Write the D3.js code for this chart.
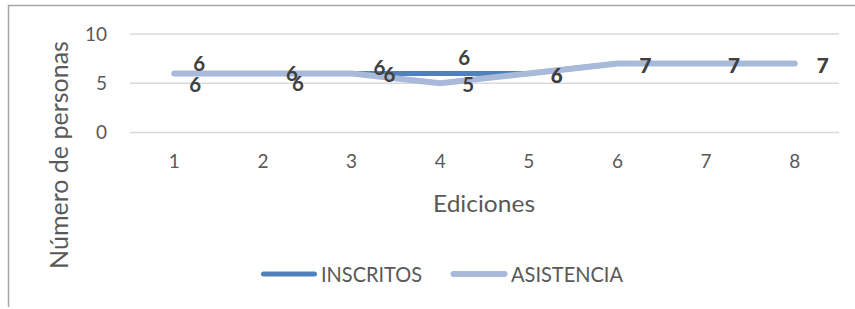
<!DOCTYPE html>
<html><head><meta charset="utf-8">
<script src="https://cdn.jsdelivr.net/npm/d3@7"></script>
<style>html,body{margin:0;padding:0;background:#fff;}svg{display:block;}</style>
</head><body>
<svg id="c" width="855" height="309"></svg>
<script>
const categories = ["1","2","3","4","5","6","7","8"];
const inscritos = [6,6,6,6,6,7,7,7];
const asistencia = [6,6,6,5,6,7,7,7];
const yTicks = [0,5,10];
const seriesNames = ["INSCRITOS","ASISTENCIA"];

// label placement (layout, offsets in px from the point)
const labelOffI = [[25,-9.5],[29,0.5],[28,-5.5],[24,-15.5],[28,2],[28,2],[28,2],[28,2]];
const labelOffA = [[21,11.5],[35,10.5],[38,1.5],[28,1.5],[28,2],[28,2],[28,2],[28,2]];

const svg = d3.select("#c");
const font = "Lato, 'Open Sans', sans-serif";
const colI = "#4f81bd", colA = "#a8b9d9";

// chart border (top + left visible)
svg.append("path").attr("d","M8.5,307 V5.5 H860").attr("fill","none").attr("stroke","#a6a6a6").attr("stroke-width",1.5);

const x = d3.scaleBand().domain(categories).range([130,839]);
const y = d3.scaleLinear().domain([0,10]).range([132.5,34]);

// gridlines
svg.append("g").selectAll("line").data(yTicks).join("line")
  .attr("x1",130).attr("x2",839)
  .attr("y1",d=>y(d)).attr("y2",d=>y(d))
  .attr("stroke","#d9d9d9").attr("stroke-width",1.5);

// y axis
const ya = svg.append("g").attr("transform","translate(130,0)")
  .call(d3.axisLeft(y).tickValues(yTicks).tickSize(0).tickPadding(23));
ya.select(".domain").remove();
ya.selectAll("text").attr("font-family",font).attr("font-size",19).attr("fill","#595959");

// x axis
const xa = svg.append("g").attr("transform","translate(0,132.5)")
  .call(d3.axisBottom(x).tickSize(0).tickPadding(22));
xa.select(".domain").remove();
xa.selectAll("text").attr("font-family",font).attr("font-size",19).attr("fill","#595959");

// axis titles
svg.append("text").attr("x",433).attr("y",212)
  .attr("textLength",102).attr("lengthAdjust","spacingAndGlyphs")
  .attr("font-family",font).attr("font-size",23.5).attr("fill","#595959").text("Ediciones");
svg.append("text").attr("transform","translate(68,155) rotate(-90)").attr("text-anchor","middle")
  .attr("font-family",font).attr("font-size",25).attr("fill","#595959").text("Número de personas");

const cx = d => x(d) + x.bandwidth()/2;
const line = d3.line().x((d,i)=>cx(categories[i])).y(d=>y(d));

svg.append("path").datum(inscritos).attr("d",line).attr("fill","none")
  .attr("stroke",colI).attr("stroke-width",5).attr("stroke-linecap","round").attr("stroke-linejoin","round");
svg.append("path").datum(asistencia).attr("d",line).attr("fill","none")
  .attr("stroke",colA).attr("stroke-width",6).attr("stroke-linecap","round").attr("stroke-linejoin","round");

// data labels
function labels(vals, offs){
  svg.append("g").selectAll("text").data(vals).join("text")
    .attr("x",(d,i)=>cx(categories[i])+offs[i][0])
    .attr("y",(d,i)=>y(d)+offs[i][1]+7.5)
    .attr("text-anchor","middle")
    .attr("font-family",font).attr("font-size",20.5).attr("font-weight","bold").attr("fill","#404040")
    .text(d=>d);
}
labels(inscritos, labelOffI);
labels(asistencia, labelOffA);

// legend
const leg = [{n:seriesNames[0],c:colI,x:261,w:5,tl:101},{n:seriesNames[1],c:colA,x:451,w:6,tl:112}];
const lg = svg.append("g");
lg.selectAll("line").data(leg).join("line")
  .attr("x1",d=>d.x+2.5).attr("x2",d=>d.x+53.5).attr("y1",274).attr("y2",274)
  .attr("stroke",d=>d.c).attr("stroke-width",d=>d.w).attr("stroke-linecap","round");
lg.selectAll("text").data(leg).join("text")
  .attr("x",d=>d.x+60).attr("y",282)
  .attr("textLength",d=>d.tl).attr("lengthAdjust","spacingAndGlyphs")
  .attr("font-family",font).attr("font-size",21).attr("fill","#595959").text(d=>d.n);
</script>
</body></html>
